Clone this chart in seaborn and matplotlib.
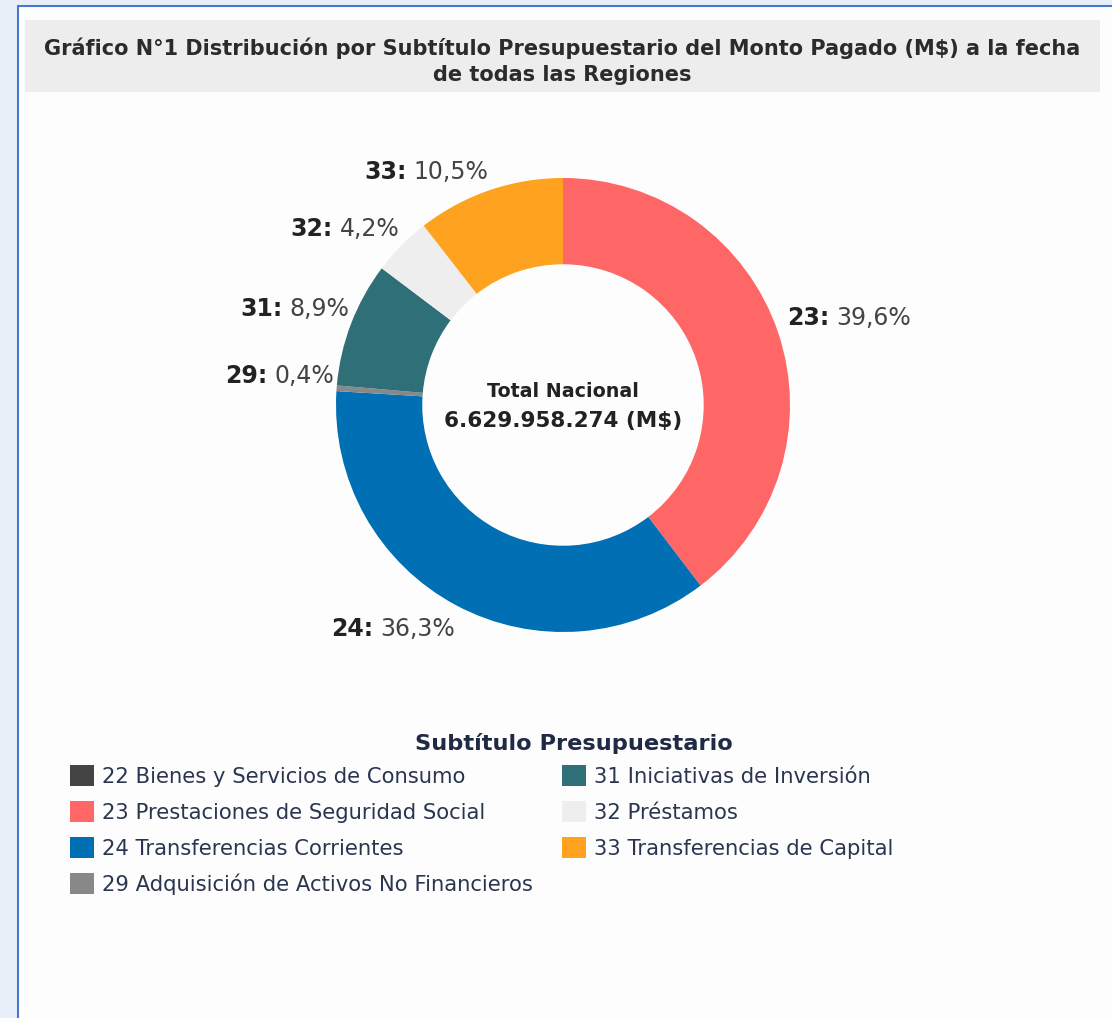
import numpy as np
import seaborn as sns
import matplotlib.pyplot as plt
from matplotlib.patches import Rectangle

# Data
codes = ["22", "23", "24", "29", "31", "32", "33"]
names = [
    "Bienes y Servicios de Consumo",
    "Prestaciones de Seguridad Social",
    "Transferencias Corrientes",
    "Adquisición de Activos No Financieros",
    "Iniciativas de Inversión",
    "Préstamos",
    "Transferencias de Capital",
]
shares = [0.0, 39.6, 36.3, 0.4, 8.9, 4.2, 10.5]
share_text = ["0,0%", "39,6%", "36,3%", "0,4%", "8,9%", "4,2%", "10,5%"]
colors = ["#444444", "#ff6666", "#006fb3", "#888888", "#2e6f78", "#eeeeee", "#ffa21f"]
total_text = "6.629.958.274 (M$)"

W, H = 1112, 1018

sns.set_theme(style="white")
plt.rcParams['font.family'] = ['DejaVu Sans']

fig = plt.figure(figsize=(W / 100, H / 100), dpi=100)
fig.patch.set_facecolor("#e9eff9")

# panel + title box
fig.patches.append(Rectangle((18 / W, -0.01), 1.02, 1 - 6 / H + 0.01, transform=fig.transFigure,
                             facecolor="#fdfdfd", edgecolor="#4a78d0", linewidth=1.5, zorder=-2))
fig.patches.append(Rectangle((25 / W, 1 - 92 / H), 1075 / W, 72 / H, transform=fig.transFigure,
                             facecolor="#ededed", edgecolor="none", zorder=-1))
fig.text(562 / W, 1 - 61 / H,
         "Gráfico N°1 Distribución por Subtítulo Presupuestario del Monto Pagado (M$) a la fecha\nde todas las Regiones",
         ha="center", va="center", fontsize=15, fontweight="bold", color="#2b2b2b", linespacing=1.35)

# donut
cx, cy, R, half = 563, 405, 227, 300
ax = fig.add_axes([(cx - half) / W, (H - cy - half) / H, 2 * half / W, 2 * half / H])
lim = half / R
ax.pie(shares, colors=colors, startangle=90, counterclock=False, radius=1,
       wedgeprops=dict(width=0.38, linewidth=0))
wedges = ax.patches
ax.set_xlim(-lim, lim)
ax.set_ylim(-lim, lim)
ax.set_aspect("equal")
ax.axis("off")

for w, code, txt, val in zip(wedges, codes, share_text, shares):
    if val <= 0:
        continue
    mid = np.deg2rad((w.theta1 + w.theta2) / 2)
    right = np.cos(mid) > 0
    up = np.sin(mid) > 0
    x = (1.04 if right else 1.01) * np.cos(mid)
    y = (1.03 if up else 1.06) * np.sin(mid)
    va = "bottom" if up else "top"
    if right:
        t = ax.text(x, y, code + ":", ha="left", va=va, fontsize=17, fontweight="bold", color="#222222")
        ax.annotate(txt, xy=(1, 0), xycoords=t, xytext=(5, 0), textcoords="offset points",
                    ha="left", va="bottom", fontsize=17, color="#444444")
    else:
        t = ax.text(x, y, txt, ha="right", va=va, fontsize=17, color="#444444")
        ax.annotate(code + ":", xy=(0, 0), xycoords=t, xytext=(-5, 0), textcoords="offset points",
                    ha="right", va="bottom", fontsize=17, fontweight="bold", color="#222222")

ax.text(0, 0.06, "Total Nacional", ha="center", va="center", fontsize=13.7, fontweight="bold", color="#222222")
ax.text(0, -0.07, total_text, ha="center", va="center", fontsize=15.5, fontweight="bold", color="#222222")

# legend
fig.text(574 / W, 1 - 744 / H, "Subtítulo Presupuestario", ha="center", va="center",
         fontsize=16.2, fontweight="bold", color="#1f2a44")
labels = [f"{c} {n}" for c, n in zip(codes, names)]
fig.legend(wedges, labels, ncol=2, loc="upper left", bbox_to_anchor=(70 / W, 1 - 765 / H),
           frameon=False, fontsize=15.2, borderpad=0, borderaxespad=0,
           handlelength=1.15, handleheight=1.15, handletextpad=0.35,
           columnspacing=1.4, labelspacing=0.68, labelcolor="#2a3550")

fig.savefig("out.png", dpi=100, facecolor=fig.get_facecolor())
